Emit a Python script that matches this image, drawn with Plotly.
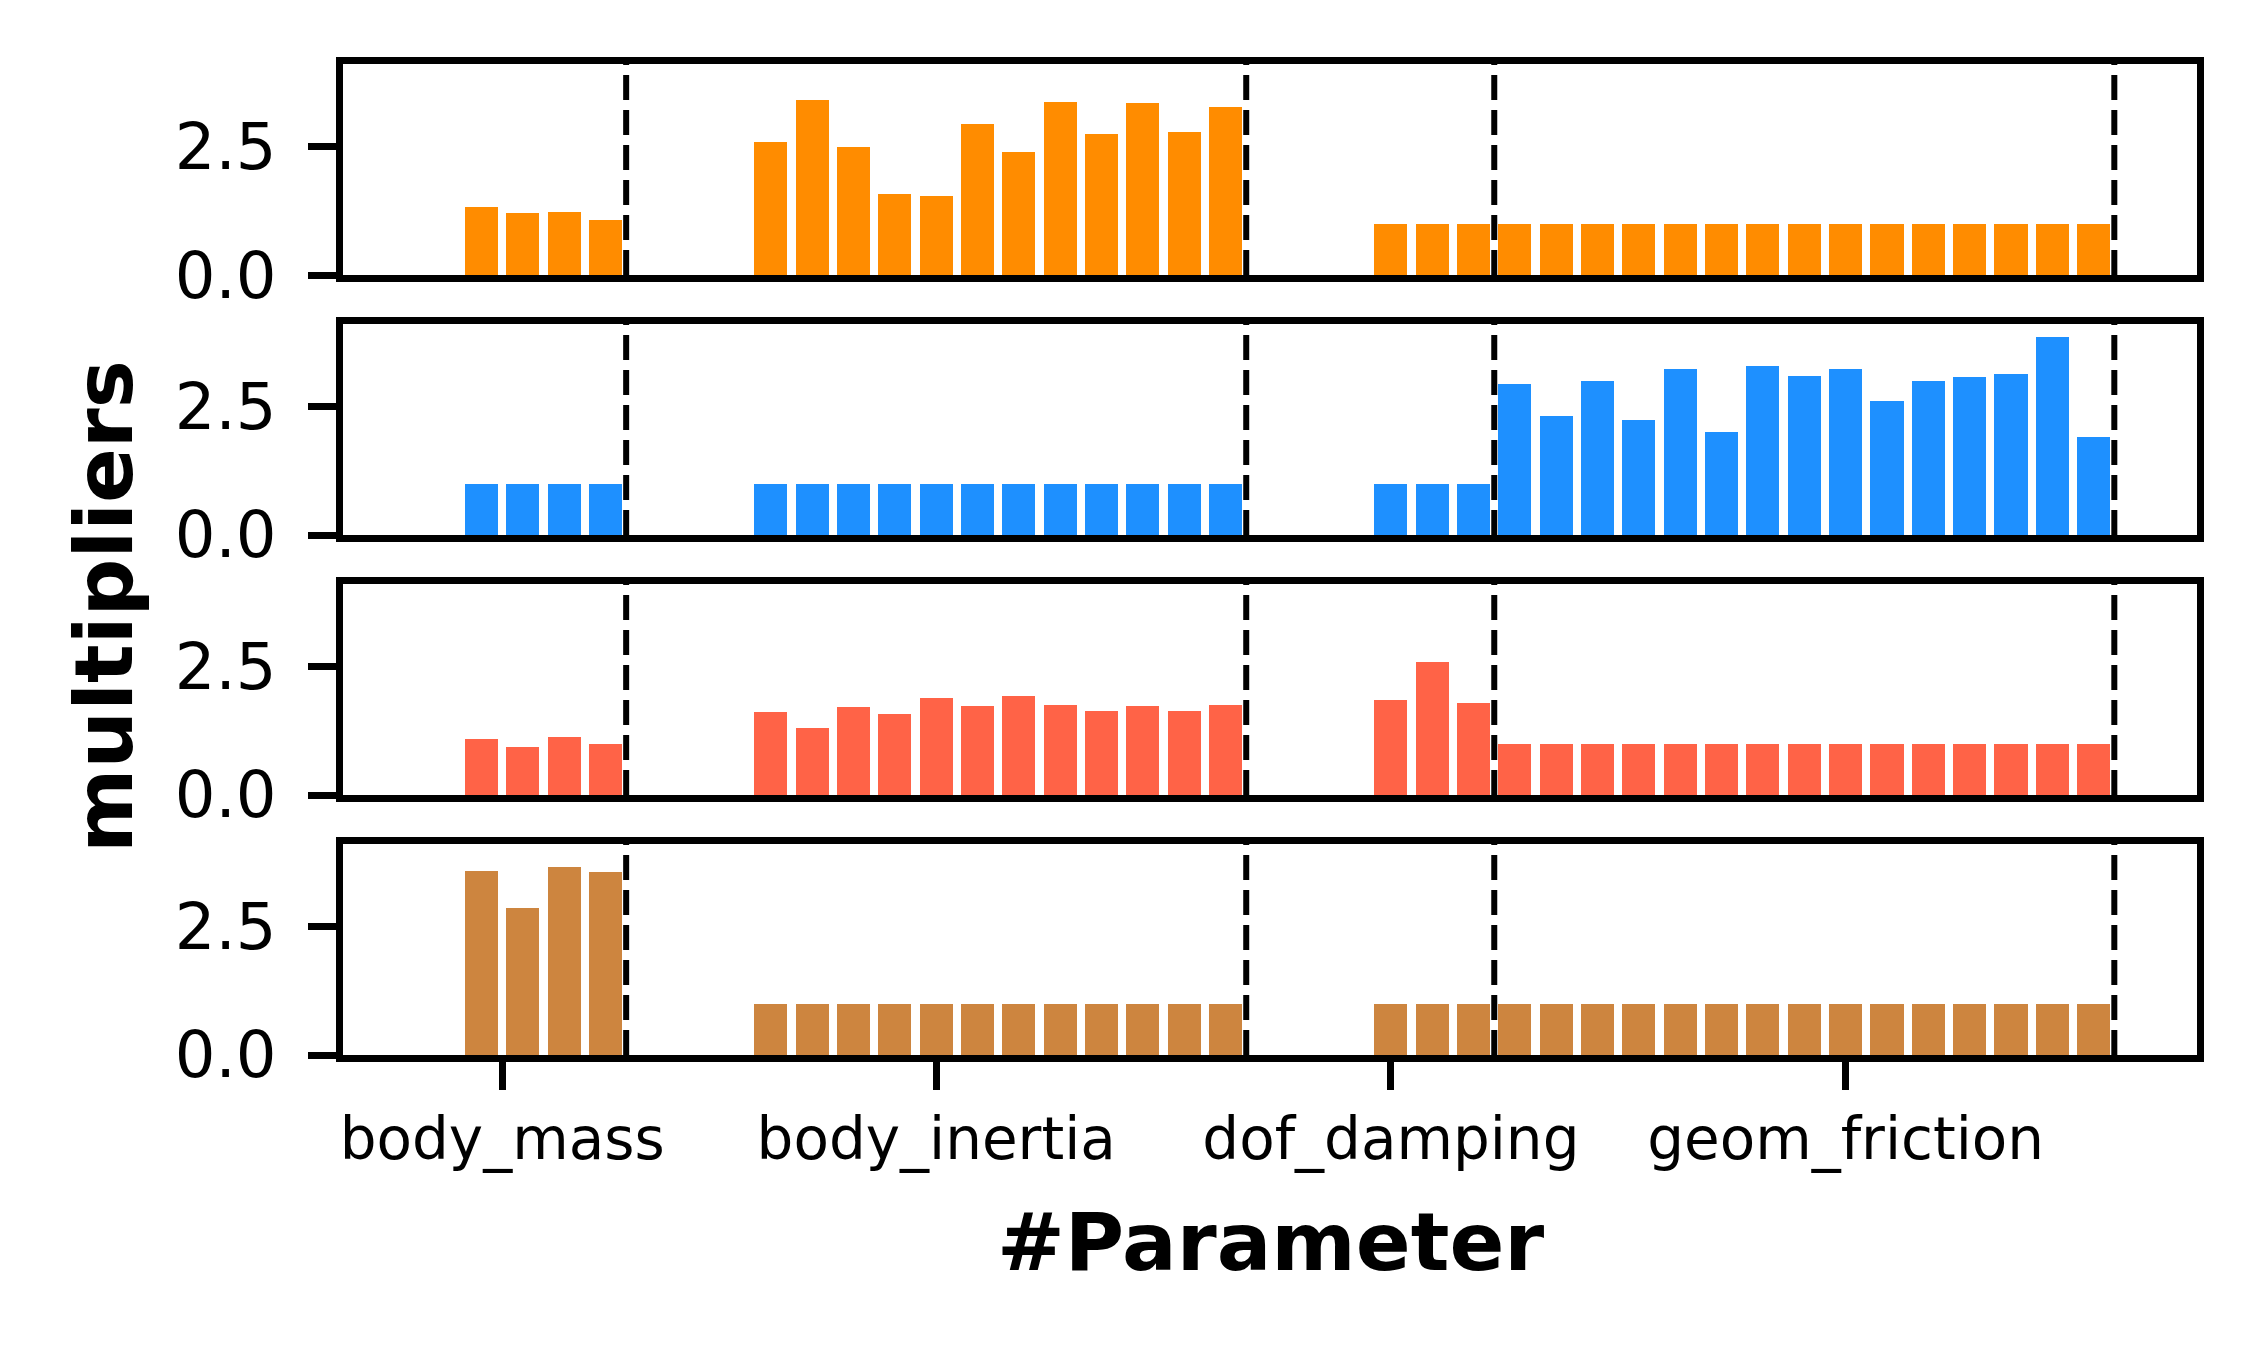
import plotly.graph_objects as go
from plotly.subplots import make_subplots

# ----- Data (one value per parameter slot)
params = ["body_mass", "body_inertia", "dof_damping", "geom_friction"]
param_len = [5, 15, 6, 15]
tick_pos = [1.5, 12, 23, 34]
y_ticks = [0.0, 2.5]

mult_orange = [0, 1.32, 1.21, 1.23, 1.07,
               0, 0, 0, 2.60, 3.40, 2.49, 1.58, 1.54, 2.95, 2.39, 3.38, 2.74, 3.36, 2.78, 3.28,
               0, 0, 0, 1.0, 1.0, 1.0,
               1.0, 1.0, 1.0, 1.0, 1.0, 1.0, 1.0, 1.0, 1.0, 1.0, 1.0, 1.0, 1.0, 1.0, 1.0]
mult_blue = [0, 1.0, 1.0, 1.0, 1.0,
             0, 0, 0, 1.0, 1.0, 1.0, 1.0, 1.0, 1.0, 1.0, 1.0, 1.0, 1.0, 1.0, 1.0,
             0, 0, 0, 1.0, 1.0, 1.0,
             2.95, 2.31, 3.01, 2.24, 3.24, 2.00, 3.30, 3.09, 3.24, 2.62, 3.01, 3.07, 3.13, 3.86, 1.91]
mult_red = [0, 1.09, 0.94, 1.13, 1.00,
            0, 0, 0, 1.62, 1.31, 1.71, 1.58, 1.89, 1.73, 1.93, 1.75, 1.63, 1.73, 1.63, 1.75,
            0, 0, 0, 1.85, 2.60, 1.79,
            1.0, 1.0, 1.0, 1.0, 1.0, 1.0, 1.0, 1.0, 1.0, 1.0, 1.0, 1.0, 1.0, 1.0, 1.0]
mult_brown = [0, 3.59, 2.86, 3.67, 3.57,
              0, 0, 0, 1.0, 1.0, 1.0, 1.0, 1.0, 1.0, 1.0, 1.0, 1.0, 1.0, 1.0, 1.0,
              0, 0, 0, 1.0, 1.0, 1.0,
              1.0, 1.0, 1.0, 1.0, 1.0, 1.0, 1.0, 1.0, 1.0, 1.0, 1.0, 1.0, 1.0, 1.0, 1.0]

series = [mult_orange, mult_blue, mult_red, mult_brown]
colors = ["#FF8C00", "#1E90FF", "#FF6347", "#CD853F"]

idx = list(range(sum(param_len)))
# dashed separators at the end of every parameter group
bounds = []
total = 0
for n in param_len:
    total += n
    bounds.append(total - 0.5)

FONT = "DejaVu Sans"

fig = make_subplots(rows=4, cols=1, shared_xaxes=True, vertical_spacing=0.0493)

for r, (vals, c) in enumerate(zip(series, colors), start=1):
    fig.add_trace(go.Bar(x=idx, y=vals, width=0.8, marker=dict(color=c, line=dict(width=0)),
                         showlegend=False), row=r, col=1)
    for b in bounds:
        fig.add_vline(x=b, row=r, col=1, line=dict(color="black", width=6, dash="25px,10px"))
    fig.update_yaxes(range=[0, 4.11], tickvals=y_ticks, tickformat=".1f", ticks="outside",
                     ticklen=28, tickwidth=6.5, tickcolor="black", showline=True, mirror=True,
                     linewidth=6.5, linecolor="black", showgrid=False, zeroline=False,
                     tickfont=dict(family=FONT, size=64, color="black"), ticklabelstandoff=19,
                     row=r, col=1)
    fig.update_xaxes(range=[-2.35, 42.5], showline=True, mirror=True, linewidth=6.5,
                     linecolor="black", showgrid=False, zeroline=False, row=r, col=1)
    if r < 4:
        fig.update_xaxes(showticklabels=False, ticks="", row=r, col=1)

fig.update_xaxes(tickvals=tick_pos, ticktext=params, ticks="outside", ticklen=28, tickwidth=6.5,
                 tickcolor="black", tickfont=dict(family=FONT, size=58, color="black"),
                 ticklabelstandoff=0, row=4, col=1)

fig.add_annotation(text="<b>#Parameter</b>", xref="paper", yref="paper", x=0.5, y=-0.1887,
                   xanchor="center", yanchor="middle", showarrow=False,
                   font=dict(family=FONT, size=81, color="black"))
fig.add_annotation(text="<b>multipliers</b>", xref="paper", yref="paper", x=-0.129, y=0.453,
                   xanchor="center", yanchor="middle", textangle=-90, showarrow=False,
                   font=dict(family=FONT, size=81, color="black"))

# the page body adds an 8px offset, so the figure is 8px smaller and margins shifted
fig.update_layout(width=2250, height=1340, paper_bgcolor="white", plot_bgcolor="white",
                  margin=dict(l=335, r=61, t=56, b=293), bargap=0)

fig.write_html("out.html")
